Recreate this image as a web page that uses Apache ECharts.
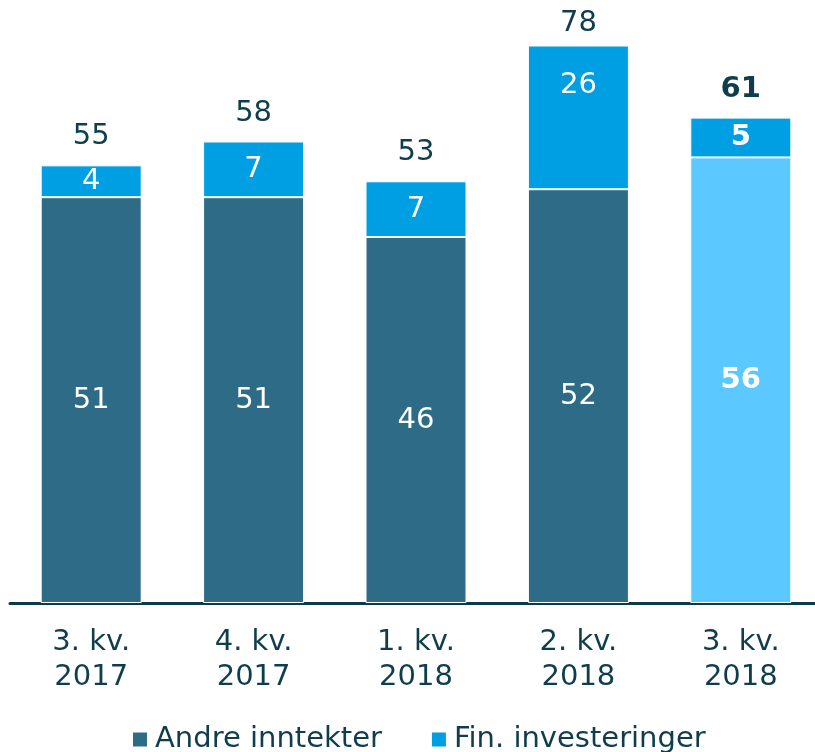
<!DOCTYPE html>
<html>
<head>
<meta charset="utf-8">
<script src="https://cdn.jsdelivr.net/npm/echarts@6/dist/echarts.min.js"></script>
<style>
  html, body { margin: 0; padding: 0; background: #fff; overflow: hidden; }
  #chart { width: 822px; height: 752px; }
</style>
</head>
<body>
<div id="chart"></div>
<script>
const categories = ['3. kv.\n2017', '4. kv.\n2017', '1. kv.\n2018', '2. kv.\n2018', '3. kv.\n2018'];
const andre = [51, 51, 46, 52, 56];
const fin = [4, 7, 7, 26, 5];
const seriesNames = ['Andre inntekter', 'Fin. investeringer'];
const axisMax = 70; // the original chart axis stopped at 70, so the 78 bar is cut off

const dark = '#2E6B87';
const blue = '#009FE3';
const light = '#5BC8FF';
const ink = '#0F3D4C';
const font = 'DejaVu Sans';
const last = categories.length - 1;

const chart = echarts.init(document.getElementById('chart'));

const andreData = andre.map((v, i) => i === last
  ? { value: v, itemStyle: { color: light }, label: { fontWeight: 'bold' } }
  : v);
const finData = fin.map((v, i) => {
  const item = { value: v, label: {} };
  if (i === last) item.label.fontWeight = 'bold';
  if (andre[i] + v > axisMax) item.label.distance = 8; // clipped bar: total sits a bit closer
  return item;
});
// inside labels of the fin segments sit at the middle of each (unclipped) segment
const finMid = fin.map((v, i) => i === last
  ? { value: andre[i] + v / 2, label: { fontWeight: 'bold' } }
  : andre[i] + v / 2);

chart.setOption({
  animation: false,
  textStyle: { fontFamily: font },
  grid: { left: 10, top: 46, right: 0, bottom: 149 },
  legend: {
    data: seriesNames,
    left: 128, top: 720,
    itemWidth: 14, itemHeight: 14, itemGap: 50,
    icon: 'rect',
    itemStyle: { borderWidth: 0 },
    textStyle: { fontSize: 29, color: ink, fontFamily: font, padding: [0, 0, 0, 3] }
  },
  xAxis: {
    type: 'category',
    data: categories,
    axisLine: { lineStyle: { color: '#0E3A48', width: 3 } },
    axisTick: { show: false },
    axisLabel: { fontSize: 29, color: ink, lineHeight: 35, margin: 22, fontFamily: font }
  },
  yAxis: { type: 'value', min: 0, max: axisMax, show: false, splitLine: { show: false } },
  series: [
    {
      name: seriesNames[0], type: 'bar', stack: 'tot', barWidth: 101, clip: true,
      itemStyle: { color: dark, borderColor: '#fff', borderWidth: 1 },
      label: { show: true, position: 'inside', color: '#fff', fontSize: 29, fontFamily: font },
      data: andreData
    },
    {
      name: seriesNames[1], type: 'bar', stack: 'tot', barWidth: 101, clip: true,
      itemStyle: { color: blue, borderColor: '#fff', borderWidth: 1 },
      label: {
        show: true, position: 'top', distance: 14, color: ink, fontSize: 29, fontFamily: font,
        formatter: p => andre[p.dataIndex] + fin[p.dataIndex]
      },
      data: finData
    },
    {
      name: 'finLabels', type: 'scatter', symbolSize: 0, clip: false, silent: true,
      itemStyle: { opacity: 1 },
      label: {
        show: true, position: 'inside', color: '#fff', fontSize: 29, fontFamily: font,
        formatter: p => fin[p.dataIndex]
      },
      data: finMid,
      z: 5
    }
  ]
});
</script>
</body>
</html>
